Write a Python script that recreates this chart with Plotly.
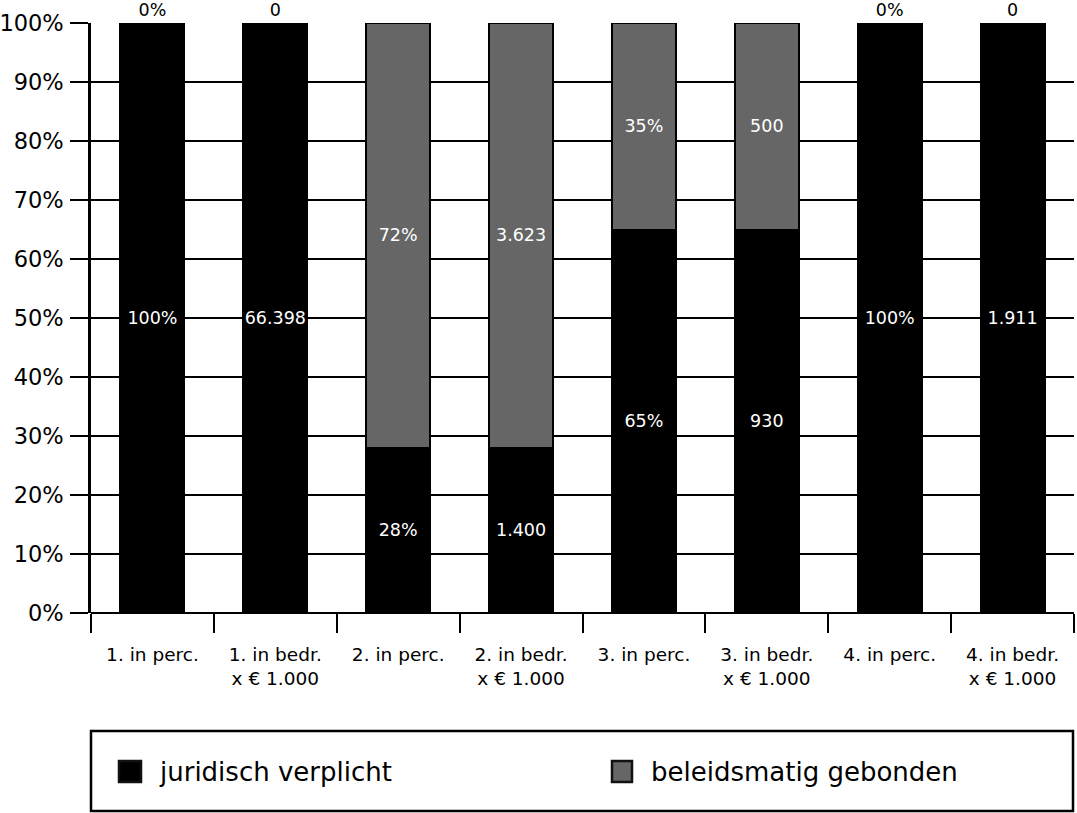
import plotly.graph_objects as go

categories = ["1. in perc.", "1. in bedr.<br>x € 1.000", "2. in perc.", "2. in bedr.<br>x € 1.000",
              "3. in perc.", "3. in bedr.<br>x € 1.000", "4. in perc.", "4. in bedr.<br>x € 1.000"]
juridisch_pct = [100, 100, 28, 28, 65, 65, 100, 100]
beleid_pct = [0, 0, 72, 72, 35, 35, 0, 0]
juridisch_labels = ["100%", "66.398", "28%", "1.400", "65%", "930", "100%", "1.911"]
beleid_labels = ["0%", "0", "72%", "3.623", "35%", "500", "0%", "0"]
y_ticks = [0, 10, 20, 30, 40, 50, 60, 70, 80, 90, 100]
y_ticklabels = [f"{v}%" for v in y_ticks]
series_names = ["juridisch verplicht", "beleidsmatig gebonden"]

FONT = "DejaVu Sans, Verdana, sans-serif"
BLACK = "#000000"
GRAY = "#666666"

W, H = 1077, 813
L, R, T, B = 91, 3, 23, 200
PW, PH = W - L - R, H - T - B


def px(p):  # pixel x -> paper
    return (p - L) / PW


def py(p):  # pixel y -> paper
    return (H - B - p) / PH


fig = go.Figure()
fig.add_trace(go.Bar(
    x=categories, y=juridisch_pct, name=series_names[0],
    marker=dict(color=BLACK, line=dict(color=BLACK, width=2)),
    text=juridisch_labels, textposition="inside", insidetextanchor="middle", textangle=0,
    textfont=dict(color="white", size=17.5, family=FONT), constraintext="none",
    showlegend=False, hoverinfo="skip",
))
beleid_pos = ["outside" if v == 0 else "inside" for v in beleid_pct]
fig.add_trace(go.Bar(
    x=categories, y=beleid_pct, name=series_names[1],
    marker=dict(color=GRAY, line=dict(color=BLACK, width=2)),
    text=beleid_labels, textposition=beleid_pos, insidetextanchor="middle", textangle=0,
    insidetextfont=dict(color="white", size=17.5, family=FONT),
    outsidetextfont=dict(color="black", size=17.5, family=FONT),
    constraintext="none", cliponaxis=False,
    showlegend=False, hoverinfo="skip",
))

# legend drawn as box + swatches + labels
legend_colors = [BLACK, GRAY]
swatch_x = [(118, 142), (611, 633)]
text_x = [160, 652]
shapes = [dict(type="rect", xref="paper", yref="paper", x0=px(91), x1=px(1073), y0=py(731), y1=py(811),
               line=dict(color="black", width=2.5), fillcolor="rgba(0,0,0,0)", layer="above")]
annotations = []
for name, col, (sx0, sx1), tx in zip(series_names, legend_colors, swatch_x, text_x):
    shapes.append(dict(type="rect", xref="paper", yref="paper", x0=px(sx0 + 1), x1=px(sx1 - 1),
                       y0=py(761), y1=py(782), fillcolor=col, line=dict(color="#111111", width=2.5),
                       layer="above"))
    annotations.append(dict(text=name, xref="paper", yref="paper", x=px(tx - 3), y=py(772),
                            xanchor="left", yanchor="middle", showarrow=False,
                            font=dict(size=26, family=FONT, color="black")))

fig.update_layout(
    barmode="stack", bargap=0.48,
    width=W, height=H,
    margin=dict(l=L, r=R, t=T, b=B, autoexpand=False),
    plot_bgcolor="white", paper_bgcolor="white",
    font=dict(family=FONT, color="black"),
    showlegend=False,
    shapes=shapes, annotations=annotations,
)
fig.update_xaxes(
    type="category", tickson="boundaries", ticks="outside", ticklen=19, tickwidth=2, tickcolor="black",
    showgrid=False, showline=False, zeroline=False, ticklabelstandoff=28, automargin=False,
    tickfont=dict(size=18.5, family=FONT, color="black"),
    range=[-0.5, 7.5],
)
fig.update_yaxes(
    range=[0, 100], tickvals=y_ticks, ticktext=y_ticklabels,
    ticks="outside", ticklen=18, tickwidth=2, tickcolor="black",
    showgrid=True, gridcolor="black", gridwidth=2,
    showline=True, linecolor="black", linewidth=2.5,
    zeroline=True, zerolinecolor="black", zerolinewidth=2, automargin=False,
    ticklabelstandoff=2,
    tickfont=dict(size=22.5, family=FONT, color="black"),
)
fig.write_html("out.html")
